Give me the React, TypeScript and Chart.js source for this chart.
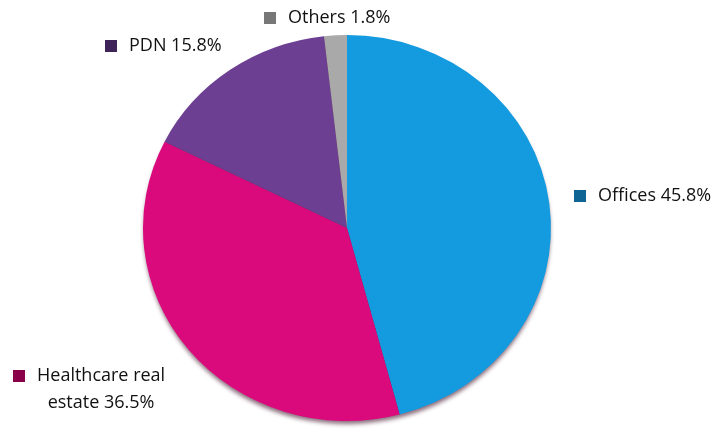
import React, { useEffect, useRef } from "react";
import { Chart, registerables } from "chart.js";

Chart.register(...registerables);

const categories = ["Offices", "Healthcare real estate", "PDN", "Others"];
const shares = [45.8, 36.5, 15.8, 1.8];
const sliceColors = ["#149ADF", "#DA0A7C", "#6C3F93", "#A9A9A9"];
const markerColors = ["#0F6594", "#8A0049", "#3E2458", "#777777"];

// label layout: marker left x, label center y, word index where the second line starts (0 = none)
const labelX = [574, 13, 105, 264];
const labelY = [196, 376, 46, 18];
const labelBreak = [0, 2, 0, 0];

const FONT = "18px 'Open Sans', Lato, sans-serif";
const Y_SCALE = 193 / 204;

const piePlugin = {
  id: "piePlugin",
  beforeDatasetsDraw(chart: any) {
    const ctx = chart.ctx;
    const arc = chart.getDatasetMeta(0).data[0];
    if (!arc) return;
    const { x, y, outerRadius } = arc as any;
    ctx.save();
    ctx.translate(x, y);
    ctx.scale(1, Y_SCALE);
    ctx.translate(-x, -y);
    ctx.save();
    ctx.shadowColor = "rgba(60,10,35,0.6)";
    ctx.shadowBlur = 4;
    ctx.shadowOffsetY = 4;
    ctx.beginPath();
    ctx.arc(x, y, outerRadius - 1, 0, Math.PI * 2);
    ctx.fillStyle = "#6a2a4a";
    ctx.fill();
    ctx.restore();
  },
  afterDatasetsDraw(chart: any) {
    const ctx = chart.ctx;
    ctx.restore();
    ctx.save();
    ctx.font = FONT;
    ctx.textBaseline = "middle";
    categories.forEach((cat, i) => {
      const mx = labelX[i];
      const cy = labelY[i];
      ctx.fillStyle = markerColors[i];
      ctx.fillRect(mx, cy - 6, 12, 12);
      const words = `${cat} ${shares[i]}%`.split(" ");
      const tx = mx + 24;
      ctx.fillStyle = "#111111";
      if (labelBreak[i] > 0) {
        const l1 = words.slice(0, labelBreak[i]).join(" ");
        const l2 = words.slice(labelBreak[i]).join(" ");
        const w1 = ctx.measureText(l1).width;
        ctx.textAlign = "left";
        ctx.fillText(l1, tx, cy);
        ctx.textAlign = "center";
        ctx.fillText(l2, tx + w1 / 2, cy + 27);
      } else {
        ctx.textAlign = "left";
        ctx.fillText(words.join(" "), tx, cy);
      }
    });
    ctx.restore();
  },
};

export default function App() {
  const ref = useRef<HTMLCanvasElement>(null);
  useEffect(() => {
    document.body.style.margin = "0";
    const chart = new Chart(ref.current as HTMLCanvasElement, {
      type: "pie",
      data: {
        labels: categories,
        datasets: [
          {
            data: shares,
            backgroundColor: sliceColors,
            borderWidth: 0,
          },
        ],
      },
      options: {
        responsive: false,
        animation: false,
        layout: { padding: { left: 143, right: 167, top: 24, bottom: 3 } },
        plugins: { legend: { display: false }, tooltip: { enabled: false } },
      },
      plugins: [piePlugin],
    });
    return () => chart.destroy();
  }, []);
  return (
    <div style={{ position: "absolute", left: 0, top: 0, width: 718, height: 435, background: "#fff" }}>
      <canvas ref={ref} width={718} height={435} />
    </div>
  );
}
